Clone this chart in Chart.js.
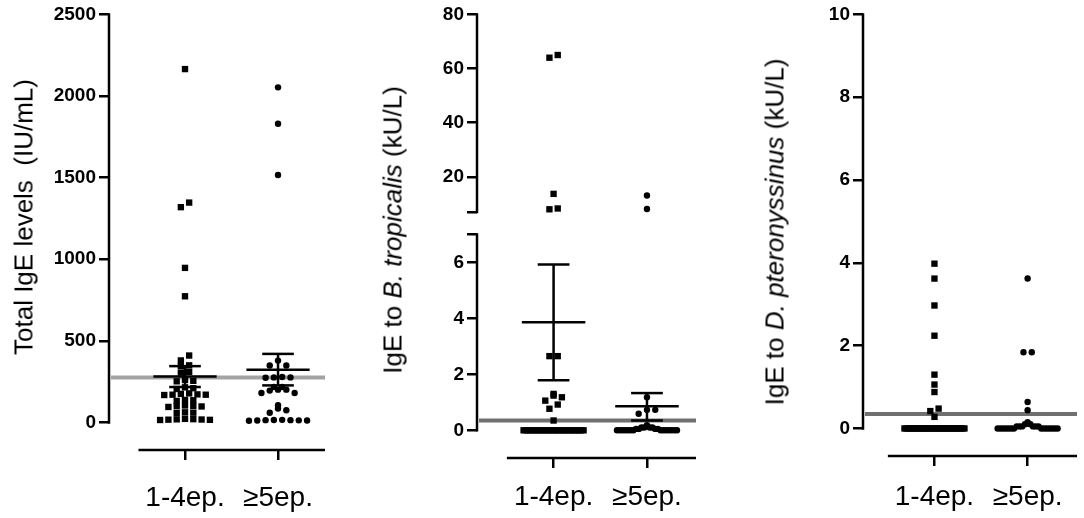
<!DOCTYPE html>
<html>
<head>
<meta charset="utf-8">
<script src="https://cdn.jsdelivr.net/npm/chart.js@4.4.1/dist/chart.umd.min.js"></script>
<style>
  body { margin: 0; background: #fff; width: 1084px; height: 518px; position: relative; overflow: hidden;
         font-family: "Liberation Sans", Arial, sans-serif; }
  canvas { position: absolute; }
  .ytitle { position: absolute; font-size: 26px; white-space: pre; color: #000;
            transform: translate(-50%, -50%) rotate(-90deg); }
</style>
</head>
<body>
<canvas id="c1"></canvas>
<canvas id="c2a"></canvas>
<canvas id="c2b"></canvas>
<canvas id="c3"></canvas>
<div class="ytitle" style="left:24px;top:217px">Total IgE levels  (IU/mL)</div>
<div class="ytitle" style="left:393px;top:230px">IgE to <i>B. tropicalis</i> (kU/L)</div>
<div class="ytitle" style="left:775px;top:232px">IgE to <i>D. pteronyssinus</i> (kU/L)</div>
<script>
const groups = ["1-4ep.", "≥5ep."];

// total IgE, IU/mL
const totalIgE1 = [2165, 1347, 1319, 947, 773, 410, 380, 350, 345, 310, 305, 260, 255, 252, 215, 210, 205,
  178, 175, 172, 170, 170, 168, 138, 136, 132, 104, 102, 100, 98, 95, 62, 60, 58, 22, 20, 19, 18, 17, 16, 15];
const totalIgE2 = [2053, 1830, 1516, 379, 349, 349, 278, 276, 276, 274, 217, 217, 201, 201, 195, 180, 180,
  105, 85, 75, 59, 16, 15, 14, 14, 13, 12, 12, 10];
const totalMean = [282, 323];
const totalSemHigh = [345, 420];
const totalSemLow = [217, 227];
const totalCutoff = 275;
const totalTicks = [0, 500, 1000, 1500, 2000, 2500];

// IgE to B. tropicalis, kU/L (axis broken at 7)
const btrop1 = [65, 64, 13.7, 8.3, 8.0, 2.65, 2.65, 1.30, 1.24, 1.18, 1.06, 0.92, 0.77, 0.35,
  0, 0, 0, 0, 0, 0, 0, 0, 0, 0, 0, 0, 0, 0, 0, 0, 0, 0, 0, 0, 0, 0, 0, 0, 0, 0, 0];
const btrop2 = [13.1, 8.1, 1.18, 0.73, 0.73, 0.59, 0.18, 0.10, 0.10, 0.10, 0.10, 0.05, 0.05, 0.05, 0.05,
  0, 0, 0, 0, 0, 0, 0, 0, 0, 0, 0, 0, 0, 0];
const btropMean = [3.86, 0.86];
const btropSemHigh = [5.92, 1.33];
const btropSemLow = [1.79, 0.35];
const btropCutoff = 0.35;
const btropBreak = 7;
const btropTicksLow = [0, 2, 4, 6, 7];
const btropTicksHigh = [7, 20, 40, 60, 80];

// IgE to D. pteronyssinus, kU/L
const dpter1 = [3.98, 3.62, 2.97, 2.24, 1.30, 1.06, 0.88, 0.48, 0.42, 0.28,
  0, 0, 0, 0, 0, 0, 0, 0, 0, 0, 0, 0, 0, 0, 0, 0, 0, 0, 0, 0, 0, 0, 0, 0, 0, 0, 0, 0, 0, 0, 0];
const dpter2 = [3.62, 1.84, 1.84, 0.64, 0.44, 0.15, 0.12, 0.10, 0.10, 0.05, 0.05, 0.05, 0.05, 0.05, 0.05,
  0, 0, 0, 0, 0, 0, 0, 0, 0, 0, 0, 0, 0, 0];
const dpterCutoff = 0.35;
const dpterTicks = [0, 2, 4, 6, 8, 10];

Chart.defaults.font.family = '"Liberation Sans", Arial, sans-serif';
Chart.defaults.color = "#000";

// spread points sideways in rows, like a column scatter; biggest value of a row sits in the middle
function swarm(values, cx, pxPerY, pxPerX) {
  const sorted = values.slice().sort((a, b) => a - b);
  const pts = [];
  let i = 0;
  while (i < sorted.length) {
    let j = i;
    while (j < sorted.length && (sorted[j] - sorted[i]) * pxPerY < 5.5) j++;
    const n = j - i;
    const step = n > 1 ? Math.min(8.3, 60 / (n - 1)) : 0;
    const slots = [];
    for (let k = 0; k < n; k++) slots.push(k - (n - 1) / 2);
    slots.sort((p, q) => Math.abs(p) - Math.abs(q) || q - p);
    const row = sorted.slice(i, j).reverse();
    row.forEach((v, k) => pts.push({ x: cx + slots[k] * step / pxPerX, y: v }));
    i = j;
  }
  return pts;
}

function line(ctx, x1, y1, x2, y2) {
  ctx.beginPath(); ctx.moveTo(x1, y1); ctx.lineTo(x2, y2); ctx.stroke();
}

const decor = {
  id: "decor",
  beforeDatasetsDraw(chart, args, o) {
    const { ctx, chartArea: ca, scales: { x, y } } = chart;
    ctx.save();
    if (o.cutoff != null) {
      ctx.strokeStyle = o.cutoffColor; ctx.lineWidth = 4;
      const py = y.getPixelForValue(o.cutoff);
      line(ctx, ca.left + 2, py, ca.right, py);
    }
    ctx.strokeStyle = "#000"; ctx.lineWidth = 2.5;
    line(ctx, ca.left, y.getPixelForValue(o.yFrom) + 1.2, ca.left, y.getPixelForValue(o.yTo) - 1.2);
    if (o.xAxis) line(ctx, x.getPixelForValue(0.5), ca.bottom, ca.right, ca.bottom);
    if (o.mean) {
      o.mean.forEach((m, i) => {
        if (m == null) return;
        const cx = i + 1;
        const px = v => x.getPixelForValue(v);
        const hi = y.getPixelForValue(o.high[i]), lo = y.getPixelForValue(o.low[i]), mp = y.getPixelForValue(m);
        line(ctx, px(cx), hi, px(cx), lo);
        line(ctx, px(cx - 0.34), mp, px(cx + 0.34), mp);
        line(ctx, px(cx - 0.17), hi, px(cx + 0.17), hi);
        line(ctx, px(cx - 0.17), lo, px(cx + 0.17), lo);
      });
    }
    ctx.restore();
  }
};

function makePanel(p) {
  const cv = document.getElementById(p.id);
  cv.width = p.w; cv.height = p.h;
  cv.style.left = p.left + "px"; cv.style.top = p.top + "px";
  cv.style.width = p.w + "px"; cv.style.height = p.h + "px";
  const a = p.area;
  const pxPerY = (a.b - a.t) / (p.yMax - p.yMin);
  const pxPerX = (a.r - a.l) / (p.xMax - p.xMin);
  const datasets = p.series.map((vals, i) => ({
    data: swarm(vals, i + 1, pxPerY, pxPerX),
    pointStyle: i === 0 ? "rect" : "circle",
    pointRadius: i === 0 ? 4.5 : 3.2,
    pointBackgroundColor: "#000",
    pointBorderWidth: 0,
    clip: false
  }));
  new Chart(cv, {
    type: "scatter",
    data: { datasets },
    options: {
      responsive: false,
      animation: false,
      layout: { padding: { left: 0, top: a.t, right: p.w - a.r, bottom: p.showX ? 0 : p.h - a.b } },
      plugins: {
        legend: { display: false },
        tooltip: { enabled: false },
        decor: p.decor
      },
      scales: {
        x: {
          type: "linear", min: p.xMin, max: p.xMax, display: p.showX,
          afterFit: s => { if (p.showX) s.height = p.h - a.b; },
          afterBuildTicks: s => { s.ticks = [1, 2].map(v => ({ value: v })); },
          grid: { drawOnChartArea: false, tickLength: 10, color: "#000", lineWidth: 2.5 },
          border: { display: false },
          ticks: { callback: v => groups[v - 1], font: { size: 28 }, padding: p.labelPad || 14, maxRotation: 0, autoSkip: false }
        },
        y: {
          type: "linear", min: p.yMin, max: p.yMax,
          afterFit: s => { s.width = a.l; },
          afterBuildTicks: s => { s.ticks = p.yTicks.map(v => ({ value: v })); },
          grid: { drawOnChartArea: false, tickLength: 10, color: "#000", lineWidth: 2.5 },
          border: { display: false },
          ticks: { callback: v => (v === btropBreak && p.hideBreak) ? "" : v, font: { size: 19, weight: "bold" }, padding: 3 }
        }
      }
    },
    plugins: [decor]
  });
}

makePanel({
  id: "c1", left: 0, top: 0, w: 340, h: 518,
  area: { l: 109, t: 12, r: 325, b: 450 }, labelPad: 21,
  xMin: 0.183, xMax: 2.505, yMin: -168.8, yMax: 2500, yTicks: totalTicks, showX: true,
  series: [totalIgE1, totalIgE2],
  decor: { cutoff: totalCutoff, cutoffColor: "#a3a3a3", yFrom: 0, yTo: 2500, xAxis: true,
           mean: totalMean, high: totalSemHigh, low: totalSemLow }
});

makePanel({
  id: "c2a", left: 360, top: 0, w: 345, h: 240,
  area: { l: 117, t: 12, r: 336, b: 212 },
  xMin: 0.18, xMax: 2.525, yMin: btropBreak, yMax: 80, yTicks: btropTicksHigh, showX: false, hideBreak: true,
  series: [btrop1.filter(v => v > btropBreak), btrop2.filter(v => v > btropBreak)],
  decor: { yFrom: btropBreak, yTo: 80, xAxis: false }
});

makePanel({
  id: "c2b", left: 360, top: 220, w: 345, h: 298,
  area: { l: 117, t: 12, r: 336, b: 238 }, labelPad: 12,
  xMin: 0.18, xMax: 2.525, yMin: -0.99, yMax: btropBreak, yTicks: btropTicksLow, showX: true, hideBreak: true,
  series: [btrop1.filter(v => v <= btropBreak), btrop2.filter(v => v <= btropBreak)],
  decor: { cutoff: btropCutoff, cutoffColor: "#707070", yFrom: 0, yTo: btropBreak, xAxis: true,
           mean: btropMean, high: btropSemHigh, low: btropSemLow }
});

makePanel({
  id: "c3", left: 740, top: 0, w: 344, h: 518,
  area: { l: 123, t: 12, r: 337, b: 456 }, labelPad: 14,
  xMin: 0.233, xMax: 2.53, yMin: -0.665, yMax: 10, yTicks: dpterTicks, showX: true,
  series: [dpter1, dpter2],
  decor: { cutoff: dpterCutoff, cutoffColor: "#707070", yFrom: 0, yTo: 10, xAxis: true }
});
</script>
</body>
</html>
